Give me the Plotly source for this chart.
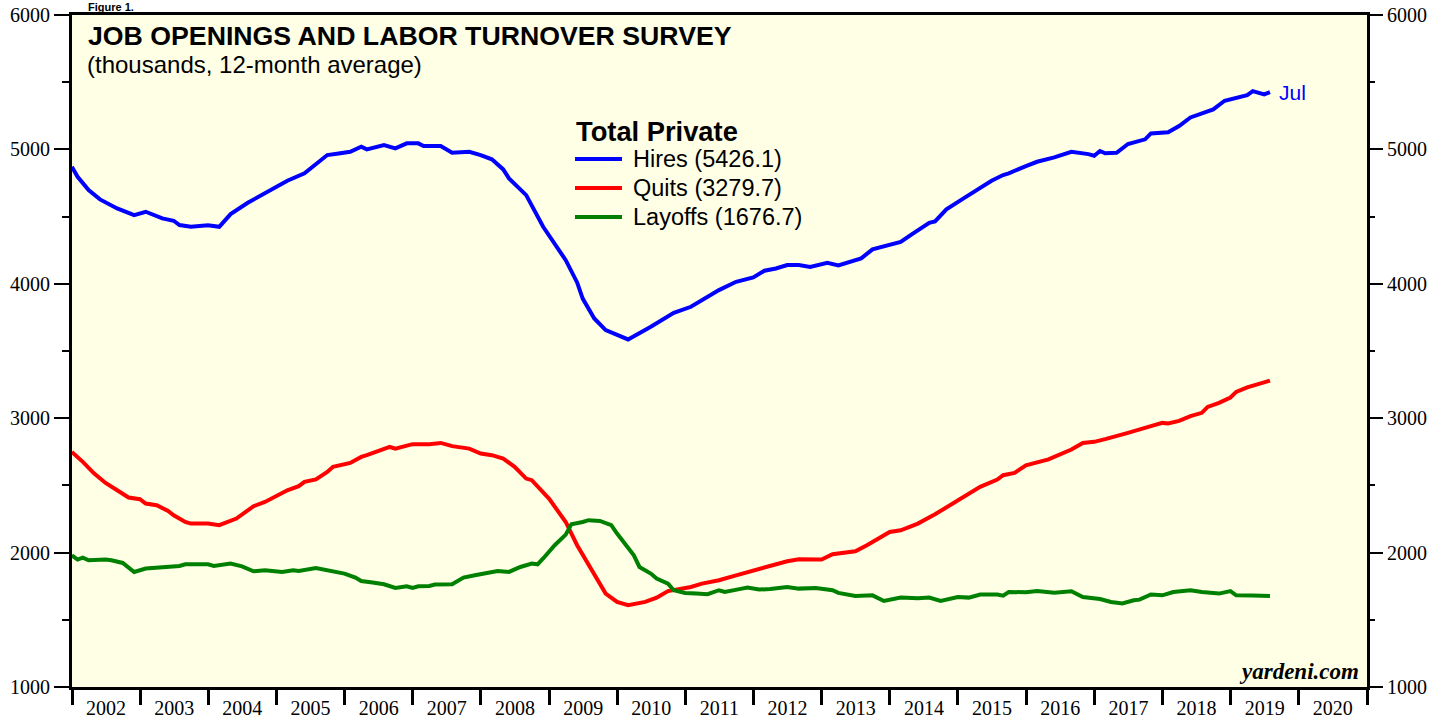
import pandas as pd
import plotly.graph_objects as go

# ---------------- data (thousands, 12-month average) ----------------
hires_months = ["2001-12", "2002-01", "2002-03", "2002-05", "2002-08", "2002-11", "2003-01", "2003-04",
                "2003-06", "2003-07", "2003-09", "2003-12", "2004-02", "2004-04", "2004-07", "2004-11",
                "2005-02", "2005-05", "2005-09", "2005-11", "2006-01", "2006-03", "2006-04", "2006-07",
                "2006-09", "2006-11", "2007-01", "2007-02", "2007-05", "2007-07", "2007-10", "2007-12",
                "2008-02", "2008-04", "2008-05", "2008-08", "2008-10", "2008-11", "2009-03", "2009-05",
                "2009-06", "2009-08", "2009-10", "2009-12", "2010-02", "2010-06", "2010-08", "2010-10",
                "2011-01", "2011-04", "2011-06", "2011-09", "2011-12", "2012-02", "2012-04", "2012-06",
                "2012-08", "2012-10", "2013-01", "2013-03", "2013-06", "2013-07", "2013-09", "2013-12",
                "2014-02", "2014-04", "2014-07", "2014-08", "2014-10", "2015-01", "2015-04", "2015-06",
                "2015-08", "2015-09", "2015-12", "2016-02", "2016-05", "2016-08", "2016-11", "2016-12",
                "2017-01", "2017-02", "2017-04", "2017-06", "2017-09", "2017-10", "2018-01", "2018-03",
                "2018-05", "2018-09", "2018-11", "2019-02", "2019-03", "2019-04", "2019-06", "2019-07"]
hires_values = [4871, 4796, 4697, 4628, 4561, 4511, 4536, 4487,
                4469, 4437, 4424, 4435, 4424, 4519, 4603, 4702,
                4767, 4822, 4958, 4970, 4982, 5020, 5000, 5032,
                5008, 5045, 5045, 5025, 5025, 4975, 4982, 4958,
                4926, 4851, 4784, 4660, 4511, 4424, 4176, 4010,
                3890, 3742, 3655, 3618, 3586, 3680, 3735, 3784,
                3829, 3903, 3953, 4015, 4047, 4097, 4114, 4139,
                4139, 4126, 4156, 4137, 4171, 4189, 4256, 4286,
                4312, 4370, 4454, 4464, 4554, 4636, 4710, 4767,
                4809, 4822, 4876, 4908, 4941, 4982, 4965, 4953,
                4988, 4971, 4975, 5040, 5075, 5119, 5127, 5174,
                5238, 5298, 5362, 5397, 5404, 5434, 5410, 5426.1]

quits_months = ["2001-12", "2002-02", "2002-04", "2002-06", "2002-08", "2002-10", "2002-12", "2003-01",
                "2003-03", "2003-05", "2003-06", "2003-08", "2003-09", "2003-12", "2004-02", "2004-05",
                "2004-08", "2004-10", "2005-02", "2005-04", "2005-05", "2005-07", "2005-09", "2005-10",
                "2006-01", "2006-03", "2006-04", "2006-08", "2006-09", "2006-12", "2007-03", "2007-05",
                "2007-07", "2007-10", "2007-12", "2008-02", "2008-04", "2008-06", "2008-08", "2008-09",
                "2008-12", "2009-03", "2009-05", "2009-08", "2009-10", "2009-12", "2010-02", "2010-05",
                "2010-07", "2010-09", "2011-01", "2011-03", "2011-06", "2011-09", "2011-11", "2012-02",
                "2012-06", "2012-08", "2012-12", "2013-02", "2013-06", "2013-08", "2013-12", "2014-02",
                "2014-05", "2014-08", "2014-11", "2014-12", "2015-02", "2015-04", "2015-07", "2015-08",
                "2015-10", "2015-12", "2016-04", "2016-06", "2016-08", "2016-10", "2016-12", "2017-02",
                "2017-04", "2017-06", "2017-10", "2017-12", "2018-01", "2018-03", "2018-05", "2018-07",
                "2018-08", "2018-10", "2018-12", "2019-01", "2019-03", "2019-05", "2019-07"]
quits_values = [2749, 2675, 2588, 2518, 2464, 2410, 2397, 2365,
                2352, 2310, 2278, 2228, 2216, 2216, 2204, 2253,
                2345, 2377, 2464, 2494, 2526, 2544, 2600, 2638,
                2667, 2712, 2725, 2786, 2774, 2807, 2807, 2816,
                2792, 2774, 2737, 2725, 2700, 2638, 2551, 2539,
                2402, 2228, 2055, 1844, 1695, 1633, 1608, 1633,
                1665, 1714, 1744, 1769, 1794, 1831, 1856, 1889,
                1936, 1950, 1948, 1988, 2010, 2055, 2154, 2166,
                2216, 2285, 2360, 2390, 2440, 2489, 2544, 2576,
                2593, 2650, 2693, 2732, 2767, 2816, 2824, 2844,
                2866, 2891, 2941, 2965, 2961, 2980, 3015, 3040,
                3084, 3114, 3154, 3196, 3229, 3253, 3279.7]

layoffs_months = ["2001-12", "2002-01", "2002-02", "2002-03", "2002-06", "2002-07", "2002-09", "2002-10",
                  "2002-11", "2003-01", "2003-03", "2003-07", "2003-08", "2003-12", "2004-01", "2004-04",
                  "2004-06", "2004-08", "2004-10", "2005-01", "2005-03", "2005-04", "2005-07", "2005-10",
                  "2005-12", "2006-02", "2006-03", "2006-05", "2006-07", "2006-09", "2006-11", "2006-12",
                  "2007-01", "2007-03", "2007-04", "2007-07", "2007-09", "2007-11", "2008-01", "2008-03",
                  "2008-05", "2008-07", "2008-09", "2008-10", "2008-11", "2009-01", "2009-03", "2009-04",
                  "2009-06", "2009-07", "2009-09", "2009-11", "2009-12", "2010-02", "2010-03", "2010-04",
                  "2010-06", "2010-07", "2010-09", "2010-10", "2010-12", "2011-02", "2011-04", "2011-06",
                  "2011-07", "2011-10", "2011-11", "2012-01", "2012-03", "2012-06", "2012-08", "2012-11",
                  "2013-02", "2013-03", "2013-06", "2013-09", "2013-11", "2014-02", "2014-05", "2014-07",
                  "2014-09", "2014-12", "2015-02", "2015-04", "2015-07", "2015-08", "2015-09", "2015-12",
                  "2016-02", "2016-05", "2016-08", "2016-10", "2017-01", "2017-03", "2017-05", "2017-07",
                  "2017-08", "2017-10", "2017-12", "2018-02", "2018-05", "2018-07", "2018-10", "2018-12",
                  "2019-01", "2019-04", "2019-06", "2019-07"]
layoffs_values = [1980, 1948, 1963, 1943, 1948, 1943, 1923, 1893,
                  1856, 1881, 1889, 1901, 1913, 1913, 1901, 1918,
                  1898, 1861, 1869, 1856, 1869, 1863, 1886, 1863,
                  1844, 1814, 1789, 1777, 1764, 1737, 1749, 1737,
                  1749, 1752, 1762, 1764, 1814, 1831, 1848, 1863,
                  1856, 1893, 1918, 1913, 1956, 2055, 2134, 2211,
                  2228, 2241, 2236, 2204, 2142, 2042, 1980, 1893,
                  1844, 1807, 1769, 1720, 1700, 1695, 1690, 1720,
                  1707, 1732, 1740, 1725, 1729, 1744, 1732, 1737,
                  1720, 1700, 1677, 1682, 1640, 1665, 1660, 1665,
                  1640, 1670, 1665, 1688, 1688, 1680, 1707, 1705,
                  1714, 1702, 1712, 1670, 1655, 1633, 1621, 1645,
                  1650, 1688, 1682, 1707, 1720, 1707, 1695, 1714,
                  1682, 1680, 1682, 1676.7]

series_names = ["Hires", "Quits", "Layoffs"]
series_colors = ["#0000FF", "#FF0000", "#008000"]
last_month_label = "Jul"
y_range = [1000, 6000]
x_range = ["2002-01-01", "2021-01-01"]

# ---------------- figure ----------------
def month_end(labels):
    return pd.to_datetime(labels, format="%Y-%m") + pd.offsets.MonthEnd(0)

SERIF = "Liberation Serif, Times New Roman, serif"
SANS = "Liberation Sans, Arial, sans-serif"
BG = "#FFFFE6"

fig = go.Figure()
all_series = [(hires_months, hires_values), (quits_months, quits_values), (layoffs_months, layoffs_values)]
for (months, vals), name, col in zip(all_series, series_names, series_colors):
    fig.add_trace(go.Scatter(x=month_end(months), y=vals, mode="lines", name=name,
                             line=dict(color=col, width=4), showlegend=False))

# invisible trace so that the right-hand axis is rendered
fig.add_trace(go.Scatter(x=[None], y=[None], yaxis="y2", showlegend=False, hoverinfo="skip"))

W, H = 1450, 719
L, R, T, B = 72, 83, 15, 32
PW, PH = W - L - R, H - T - B


def px(x):
    return (x - L) / PW


def py(y):
    return (H - B - y) / PH


ann = []
ann.append(dict(text="<b>Figure 1.</b>", x=px(86), y=py(7), xref="paper", yref="paper",
                xanchor="left", yanchor="middle", showarrow=False,
                font=dict(family=SANS, size=11, color="black")))
ann.append(dict(text="<b>JOB OPENINGS AND LABOR TURNOVER SURVEY</b>", x=px(86), y=py(36),
                xref="paper", yref="paper", xanchor="left", yanchor="middle", showarrow=False,
                font=dict(family=SANS, size=26.7, color="black")))
ann.append(dict(text="(thousands, 12-month average)", x=px(85), y=py(65),
                xref="paper", yref="paper", xanchor="left", yanchor="middle", showarrow=False,
                font=dict(family=SANS, size=24, color="black")))
# legend
ann.append(dict(text="<b>Total Private</b>", x=px(574), y=py(131), xref="paper", yref="paper",
                xanchor="left", yanchor="middle", showarrow=False,
                font=dict(family=SANS, size=27.3, color="black")))
shapes = []
legend_vals = [hires_values[-1], quits_values[-1], layoffs_values[-1]]
for i, (name, col, v) in enumerate(zip(series_names, series_colors, legend_vals)):
    yy = 159 + i * 29
    shapes.append(dict(type="line", xref="paper", yref="paper", x0=px(575), x1=px(622),
                       y0=py(yy), y1=py(yy), line=dict(color=col, width=4)))
    ann.append(dict(text=f"{name} ({v:.1f})", x=px(631), y=py(yy), xref="paper", yref="paper",
                    xanchor="left", yanchor="middle", showarrow=False,
                    font=dict(family=SANS, size=23.5, color="black")))
# last-month label
ann.append(dict(text=last_month_label, x=month_end([hires_months[-1]])[0], y=hires_values[-1],
                xref="x", yref="y", xanchor="left", yanchor="middle", xshift=7, showarrow=False,
                font=dict(family=SANS, size=21, color="#0000FF")))
ann.append(dict(text="<b><i>yardeni.com</i></b>", x=px(1361), y=py(671), xref="paper", yref="paper",
                xanchor="right", yanchor="middle", showarrow=False,
                font=dict(family=SERIF, size=23, color="black")))

yaxis_common = dict(range=y_range, dtick=1000, tick0=0, ticks="outside", ticklen=15, tickwidth=1.5,
                    tickcolor="black", showgrid=False, zeroline=False, automargin=False,
                    tickfont=dict(family=SERIF, size=20, color="black"),
                    minor=dict(dtick=500, ticks="outside", ticklen=7, tickwidth=1.5, tickcolor="black",
                               showgrid=False))

fig.update_layout(
    width=W, height=H, margin=dict(l=L, r=R, t=T, b=B, autoexpand=False),
    paper_bgcolor="white", plot_bgcolor=BG,
    showlegend=False,
    xaxis=dict(range=x_range, type="date", dtick="M12", tick0="2002-01-01", tickformat="%Y",
               ticklabelmode="period", ticks="outside", ticklen=15, tickwidth=3, tickcolor="black",
               ticklabelstandoff=-14, automargin=False,
               showline=True, linewidth=3, linecolor="black", mirror=True, showgrid=False,
               zeroline=False, tickfont=dict(family=SERIF, size=20, color="black")),
    yaxis=dict(**yaxis_common, showline=True, linewidth=3, linecolor="black", mirror=True),
    yaxis2=dict(**yaxis_common, overlaying="y", side="right", showline=False),
    annotations=ann, shapes=shapes,
)

fig.write_html("out.html", config={"displayModeBar": False},
               post_script="document.body.style.margin='0';")
